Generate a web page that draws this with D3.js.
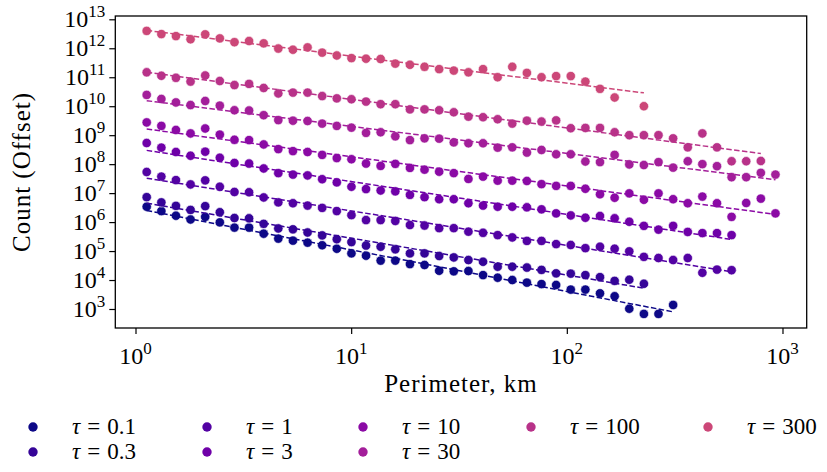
<!DOCTYPE html>
<html><head><meta charset="utf-8">
<script src="https://cdn.jsdelivr.net/npm/d3@7"></script>
<style>
body{margin:0;background:#fff}
svg text{font-family:"Liberation Serif","DejaVu Serif",serif;fill:#000}
</style>
</head><body><svg id="c" width="827" height="472"></svg>
<script>
// Perimeter bins (km), shared by all series
const perimeterKm = [1.127,1.318,1.540,1.800,2.105,2.460,2.876,3.362,3.930,4.594,5.370,6.278,7.338,8.578,10.03,11.72,13.70,16.02,18.73,21.89,25.59,29.91,34.97,40.88,47.78,55.85,65.29,76.32,89.22,104.3,121.9,142.5,166.6,194.8,227.7,266.1,311.1,363.7,425.1,496.9,580.8,678.9,793.6,927.7];

const tauLabels = ["0.1","0.3","1","3","10","30","100","300"];

// log10 of offset counts (null = no point)
const log10CountTau0p1 = [6.53,6.38,6.22,6.09,6.18,5.99,5.81,5.81,5.60,5.43,5.36,5.29,5.20,5.08,4.92,4.84,4.67,4.67,4.55,4.52,4.32,4.30,4.31,4.17,4.08,4.00,3.91,3.86,3.83,3.67,3.67,3.54,3.44,3.01,2.83,2.83,3.14];
const log10CountTau0p3 = [6.86,6.68,6.56,6.42,6.55,6.34,6.14,6.13,5.94,5.78,5.75,5.64,5.54,5.41,5.31,5.19,5.15,5.06,4.92,4.92,4.83,4.78,4.69,4.63,4.46,4.46,4.43,4.35,4.23,4.22,4.17,4.10,3.97,4.01,3.87];
const log10CountTau1 = [7.73,7.57,7.45,7.30,7.44,7.22,7.04,7.03,6.85,6.68,6.65,6.57,6.49,6.38,6.24,6.07,6.07,6.04,5.90,5.88,5.79,5.79,5.67,5.63,5.55,5.47,5.35,5.35,5.24,5.21,5.10,5.15,5.08,4.99,4.80,4.76,4.69,4.76,4.25,4.36,4.34];
const log10CountTau3 = [8.73,8.57,8.42,8.29,8.43,8.22,8.04,8.02,7.85,7.69,7.64,7.61,7.48,7.37,7.22,7.14,7.09,7.06,6.94,6.86,6.79,6.79,6.65,6.57,6.53,6.53,6.51,6.44,6.30,6.23,6.15,6.21,6.13,6.01,5.87,5.74,5.87,5.66,5.62,5.62,5.55];
const log10CountTau10 = [9.44,9.32,9.18,9.06,9.23,9.02,8.84,8.83,8.68,8.52,8.45,8.42,8.32,8.21,8.17,8.02,7.94,8.01,7.87,7.81,7.74,7.69,7.49,7.57,7.43,7.43,7.42,7.31,7.25,7.25,7.15,6.96,6.84,6.99,6.77,6.99,6.79,6.65,6.88,6.65,6.18,6.66,6.81,6.30];
const log10CountTau30 = [10.39,10.25,10.13,10.04,10.18,10.02,9.86,9.85,9.69,9.52,9.50,9.49,9.40,9.32,9.26,9.08,9.10,8.96,8.83,8.89,8.88,8.75,8.72,8.72,8.57,8.58,8.40,8.49,8.34,8.34,8.09,8.07,8.32,7.99,7.97,8.07,7.88,8.10,8.00,7.93,7.55,7.55,7.70,7.64];
const log10CountTau100 = [11.17,11.05,10.98,10.85,11.06,10.87,10.73,10.77,10.63,10.44,10.47,10.47,10.35,10.27,10.24,10.16,10.07,10.07,9.89,9.89,9.86,9.79,9.64,9.62,9.55,9.40,9.50,9.47,9.51,9.24,9.25,9.25,9.10,9.00,9.00,9.00,8.89,8.58,9.06,8.58,8.10,8.10,8.11];
const log10CountTau300 = [12.60,12.49,12.42,12.31,12.48,12.34,12.21,12.25,12.17,11.99,11.95,12.03,11.85,11.75,11.66,11.64,11.63,11.47,11.43,11.36,11.28,11.23,11.17,11.28,11.00,11.36,11.15,11.00,11.04,11.04,10.85,10.60,10.30,null,10.00];

const xTickExponents = [0,1,2,3];
const yTickExponents = [3,4,5,6,7,8,9,10,11,12,13];

const seriesLog = [log10CountTau0p1,log10CountTau0p3,log10CountTau1,log10CountTau3,log10CountTau10,log10CountTau30,log10CountTau100,log10CountTau300];
const series = seriesLog.map((arr,i)=>({
  label: tauLabels[i],
  color: d3.interpolatePlasma(i/14),
  pts: arr.map((v,k)=> v==null?null:{x:perimeterKm[k], y:Math.pow(10,v)}).filter(p=>p)
}));

const svg = d3.select("#c");
const P = {left:115.3,right:806.7,top:16,bottom:328};
const x = d3.scaleLog().domain([0.806,1295]).range([P.left,P.right]);
const y = d3.scaleLog().domain([Math.pow(10,2.344),Math.pow(10,13.114)]).range([P.bottom,P.top]);

// data
const g = svg.append("g");
series.forEach(s=>{
  g.append("g").selectAll("circle").data(s.pts).join("circle")
    .attr("cx",d=>x(d.x)).attr("cy",d=>y(d.y)).attr("r",4.7)
    .attr("fill",s.color).attr("stroke","#fff").attr("stroke-width",0.6);
  // power-law fit (least squares in log-log space)
  const lx = s.pts.map(p=>Math.log10(p.x)), ly = s.pts.map(p=>Math.log10(p.y));
  const mx = d3.mean(lx), my = d3.mean(ly);
  const b = d3.sum(lx.map((v,i)=>(v-mx)*(ly[i]-my)))/d3.sum(lx.map(v=>(v-mx)*(v-mx)));
  const a = my - b*mx;
  const x0 = s.pts[0].x, x1 = s.pts[s.pts.length-1].x;
  const fit = [x0,x1].map(xx=>({x:xx,y:Math.pow(10,a+b*Math.log10(xx))}));
  g.append("path").datum(fit)
    .attr("d",d3.line().x(d=>x(d.x)).y(d=>y(d.y)))
    .attr("fill","none").attr("stroke",s.color).attr("stroke-width",1.5)
    .attr("stroke-dasharray","5.5,2.4");
});

// frame
svg.append("rect").attr("x",P.left).attr("y",P.top)
  .attr("width",P.right-P.left).attr("height",P.bottom-P.top)
  .attr("fill","none").attr("stroke","#000").attr("stroke-width",1.3);

// axes
const xAxis = svg.append("g").attr("transform",`translate(0,${P.bottom})`)
  .call(d3.axisBottom(x).tickValues(xTickExponents.map(e=>Math.pow(10,e))).tickSize(6).tickFormat(""));
const yAxis = svg.append("g").attr("transform",`translate(${P.left},0)`)
  .call(d3.axisLeft(y).tickValues(yTickExponents.map(e=>Math.pow(10,e))).tickSize(6).tickFormat(""));
[xAxis,yAxis].forEach(a=>{a.select(".domain").remove(); a.selectAll(".tick line").attr("stroke","#000").attr("stroke-width",1.2);});

xTickExponents.forEach(e=>{
  const t = svg.append("text").attr("x",x(Math.pow(10,e))).attr("y",364)
    .attr("text-anchor","middle").style("font-size","24px");
  t.append("tspan").text("10");
  t.append("tspan").attr("dy",-10).style("font-size","17px").text(e);
});
yTickExponents.forEach(e=>{
  const t = svg.append("text").attr("x",P.left-10).attr("y",y(Math.pow(10,e))+8)
    .attr("text-anchor","end").style("font-size","24px");
  t.append("tspan").text("10");
  t.append("tspan").attr("dy",-10).style("font-size","17px").text(e);
});

svg.append("text").attr("x",461).attr("y",392)
  .attr("text-anchor","middle").style("font-size","25px").style("letter-spacing","1px").text("Perimeter, km");
svg.append("text").attr("transform",`translate(30,${(P.top+P.bottom)/2}) rotate(-90)`)
  .attr("text-anchor","middle").style("font-size","25px").style("letter-spacing","1px").text("Count (Offset)");

// legend: 5 columns, first three columns hold two entries, last two hold one
const legMarkerX = [33,207,363,531,708];
const legRowY = [427,452];
const legSlots = [[0,0],[0,1],[1,0],[1,1],[2,0],[2,1],[3,0],[4,0]];
series.forEach((s,i)=>{
  const [col,row] = legSlots[i];
  const cx = legMarkerX[col], cy = legRowY[row];
  svg.append("circle").attr("cx",cx).attr("cy",cy).attr("r",4.7).attr("fill",s.color);
  const t = svg.append("text").attr("x",cx+39).attr("y",cy+7).style("font-size","23px");
  t.append("tspan").style("font-style","italic").text("τ");
  t.append("tspan").attr("dx",7).text("=");
  t.append("tspan").attr("dx",7).text(s.label);
});
</script></body></html>
